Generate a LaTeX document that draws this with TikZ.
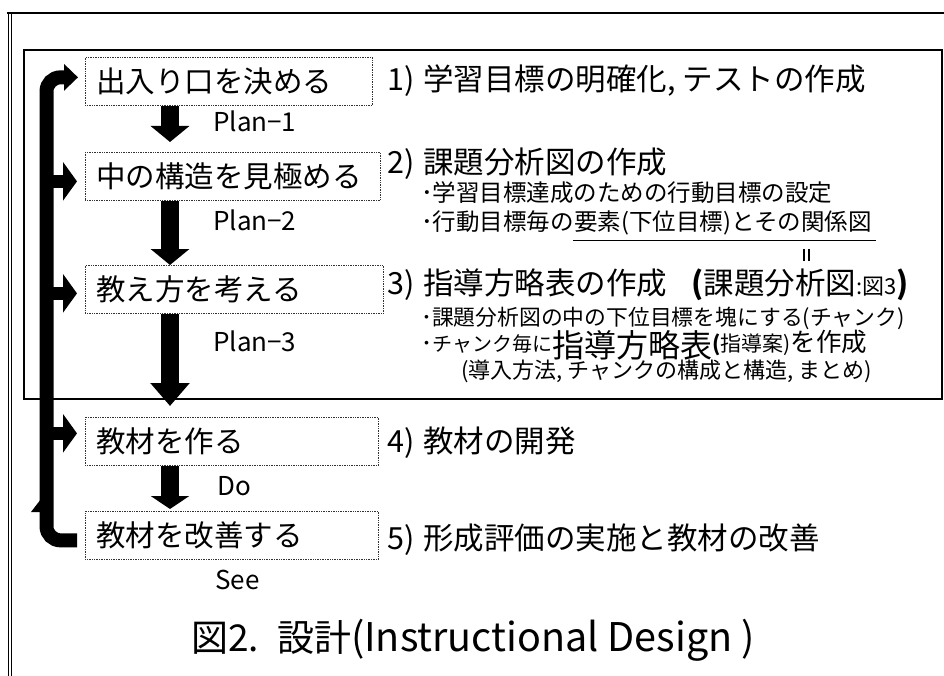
\documentclass[tikz,border=0pt]{standalone}
\usepackage{fontspec}
\setmainfont{Noto Sans CJK JP}
\usetikzlibrary{arrows.meta,calc}
\newcommand\fsbox{\fontsize{29.5}{34}\selectfont}
\newcommand\fshead{\fontsize{30.5}{35}\selectfont}
\newcommand\fsbul{\fontsize{23.5}{27}\selectfont}
\newcommand\fsplan{\fontsize{26}{30}\selectfont}
\newcommand\fstitle{\fontsize{37}{42}\selectfont}
\newcommand\rp{)\hspace{9pt}}
\begin{document}
\begin{tikzpicture}[x=1pt,y=-1pt,
  stepbox/.style={draw=black!80, densely dotted, line width=0.7pt, anchor=north west,
    minimum height=48pt, inner xsep=11pt, inner ysep=0pt, align=left, font=\fsbox},
  head/.style={anchor=base west, inner sep=0pt, font=\fshead},
  bul/.style={anchor=base west, inner sep=0pt, font=\fsbul},
  plan/.style={anchor=base west, inner sep=0pt, font=\fsplan},
  downarr/.style={line width=18pt, -{Triangle[width=38pt,length=16pt]}},
  sidearr/.style={line width=13pt, -{Triangle[width=38pt,length=14pt]}},
  frame/.style={line width=1.3pt}
]
\useasboundingbox (0,0) rectangle (944,676);
% outer frame
\draw[line width=2pt] (7,13) -- (944,13);
\draw[line width=0.9pt] (8,13) -- (8,676);
\draw[line width=0.9pt] (11.5,13) -- (11.5,676);
% inner frame
\draw[frame] (24,50) rectangle (942,399);

% step boxes
\node[stepbox, text width=265pt] (b1) at (85,57) {出入り口を決める};
\node[stepbox, text width=273pt] (b2) at (85,152) {中の構造を見極める};
\node[stepbox, text width=276pt] (b3) at (85,265) {教え方を考える};
\node[stepbox, text width=271pt] (b4) at (85,417) {教材を作る};
\node[stepbox, text width=271pt] (b5) at (85,511) {教材を改善する};

% down arrows
\coordinate (ax) at (170,0);
\draw[downarr] (ax |- b1.south) -- ($(ax |- b2.north)+(0,-10)$);
\draw[downarr] (ax |- b2.south) -- (ax |- b3.north);
\draw[downarr, -{Triangle[width=38pt,length=23pt]}] (ax |- b3.south) -- ($(ax |- b4.north)+(0,-11)$);
\draw[downarr, -{Triangle[width=38pt,length=13pt]}] (ax |- b4.south) -- ($(ax |- b5.north)+(0,-2)$);

% plan labels
\node[plan] (p1) at (213,132) {Plan−1};
\node[plan] (p2) at (213,231) {Plan−2};
\node[plan] (p3) at (213,351) {Plan−3};
\node[plan] (pd) at (217,495) {Do};
\node[plan] (ps) at (215,589) {See};

% feedback loop
\coordinate (bx) at (46.5,0);
\draw[line width=14pt, rounded corners=14pt, -{Triangle[width=26pt,length=14pt]}]
  ($(b5.west)+(-8,5)$) -| ($(bx |- b1.west)+(0,-4)$) -- ($(b1.west)+(-7,-4)$);
\fill (31,512) -- (41,499) -- (41,512) -- cycle;
\draw[sidearr] ($(bx |- b2.west)+(0,5)$) -- ($(b2.west)+(-8,5)$);
\draw[sidearr] ($(bx |- b3.west)+(0,4)$) -- ($(b3.west)+(-8,4)$);
\draw[sidearr] ($(bx |- b4.west)+(0,-8)$) -- ($(b4.west)+(-8,-8)$);

% right-hand texts
\node[head] (h1) at (387,91) {1\rp 学習目標の明確化, テストの作成};
\node[head] (h2) at (387,174) {2\rp 課題分析図の作成};
\node[bul] (s2a) at (421,202) {･学習目標達成のための行動目標の設定};
\node[bul] (s2b) at (421,231) {･行動目標毎の};
\node[bul, anchor=base west] (s2c) at (s2b.base east) {要素(下位目標)とその関係図};
\draw[line width=1pt] ($(s2c.south west)+(-1,5)$) -- ($(s2c.south east)+(4,5)$);
\coordinate (eq) at ($(s2c.south west)!0.78!(s2c.south east)$);
\draw[line width=2pt] ($(eq)+(-2.3,13)$) -- ($(eq)+(-2.3,25)$);
\draw[line width=2pt] ($(eq)+(2.3,13)$) -- ($(eq)+(2.3,25)$);
\node[head] (h3) at (387,294) {3\rp 指導方略表の作成\hspace{24pt}{\bfseries(}課題分析図{\fontsize{22}{26}\selectfont :図3}{\bfseries)}};
\node[bul, font=\fontsize{21.8}{26}\selectfont] (s3a) at (421,325) {･課題分析図の中の下位目標を塊にする(チャンク)};
\node[bul, font=\fontsize{22}{26}\selectfont] (s3b) at (421,351.5) {･{\fontsize{20}{24}\selectfont チャンク毎に}\raisebox{-5.5pt}{\fontsize{32}{36}\selectfont 指導方略表}{\fontsize{21}{25}\selectfont{\bfseries(}指導案)}{\fontsize{25.5}{30}\selectfont を作成}};
\node[bul, font=\fontsize{22}{26}\selectfont] (s3c) at (461,378.5) {(導入方法, チャンクの構成と構造, まとめ)};
\node[head] (h4) at (387,452) {4\rp 教材の開発};
\node[head] (h5) at (387,549) {5\rp 形成評価の実施と教材の改善};

% title
\node[anchor=base west, inner sep=0pt, font=\fstitle] (title) at (191,651) {図2.\hspace{18pt}設計{\fontsize{39.5}{45}\selectfont (Instructional Design )}};
\end{tikzpicture}
\end{document}
